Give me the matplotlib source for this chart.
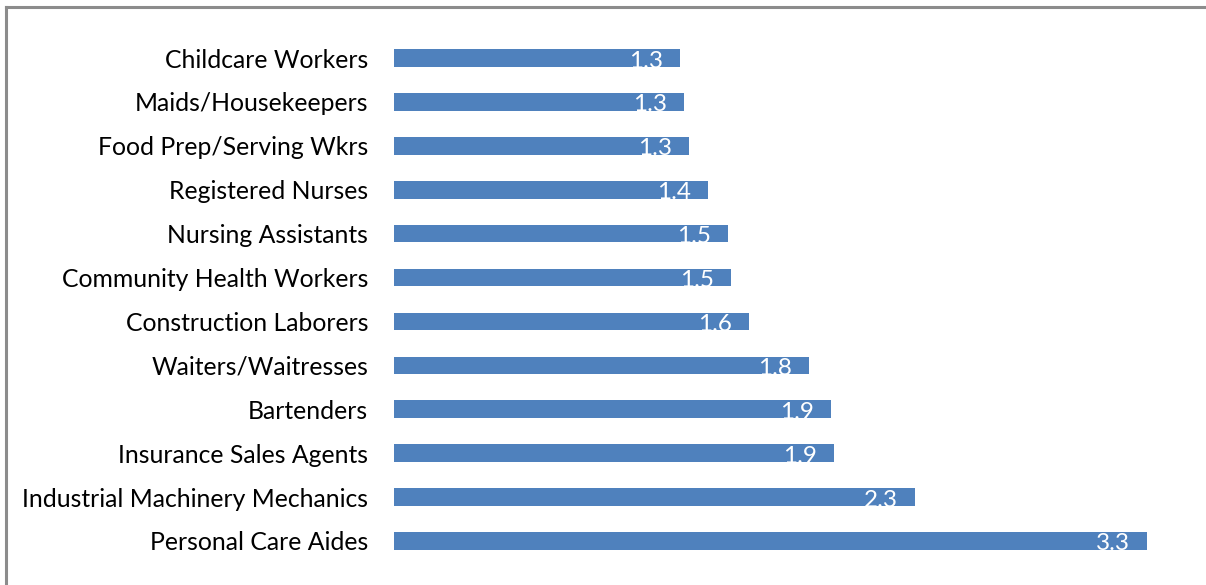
import matplotlib
matplotlib.use("Agg")
import matplotlib.pyplot as plt
from matplotlib.lines import Line2D

categories = [
    "Childcare Workers",
    "Maids/Housekeepers",
    "Food Prep/Serving Wkrs",
    "Registered Nurses",
    "Nursing Assistants",
    "Community Health Workers",
    "Construction Laborers",
    "Waiters/Waitresses",
    "Bartenders",
    "Insurance Sales Agents",
    "Industrial Machinery Mechanics",
    "Personal Care Aides",
]
values = [1.255, 1.272, 1.294, 1.375, 1.464, 1.475, 1.554, 1.819, 1.916, 1.927, 2.284, 3.30]

BAR_COLOR = "#4F81BD"
FONT = ["Lato", "DejaVu Sans"]
W, H = 1206, 585

plt.rcParams["font.family"] = FONT

fig = plt.figure(figsize=(W / 100, H / 100), dpi=100)
fig.patch.set_facecolor("white")

xmax = 3.5
px_per_unit = (1147 - 394) / 3.3
ax_left = 394
ax_width = xmax * px_per_unit
row = (541 - 58) / 11
ax_top = 58 - 0.5 * row
ax_bottom = 541 + 0.5 * row
ax = fig.add_axes([ax_left / W, 1 - ax_bottom / H, ax_width / W, (ax_bottom - ax_top) / H])

ypos = list(range(len(categories)))
bars = ax.barh(ypos, values, height=0.4, color=BAR_COLOR, edgecolor="none")
ax.set_xlim(0, xmax)
ax.set_ylim(len(categories) - 0.5, -0.5)

ax.set_yticks(ypos)
ax.set_yticklabels(categories, fontsize=17.8, color="black")
ax.tick_params(axis="y", length=0, pad=18.5)
ax.set_xticks([])
for s in ax.spines.values():
    s.set_visible(False)

for y, v in zip(ypos, values):
    ax.annotate(f"{v:.1f}", xy=(v, y), xytext=(-17, -1), textcoords="offset pixels",
                ha="right", va="center_baseline", color="white", fontsize=17.5,
                clip_on=False)

# outer border (left and top visible)
col = "#8c8c8c"
fig.add_artist(Line2D([5.5, 5.5], [0, H - 6.5], transform=None, color=col, lw=2.2))
fig.add_artist(Line2D([5.5, W], [H - 6.5, H - 6.5], transform=None, color=col, lw=2.2))

fig.savefig("out.png", dpi=100, facecolor="white")
